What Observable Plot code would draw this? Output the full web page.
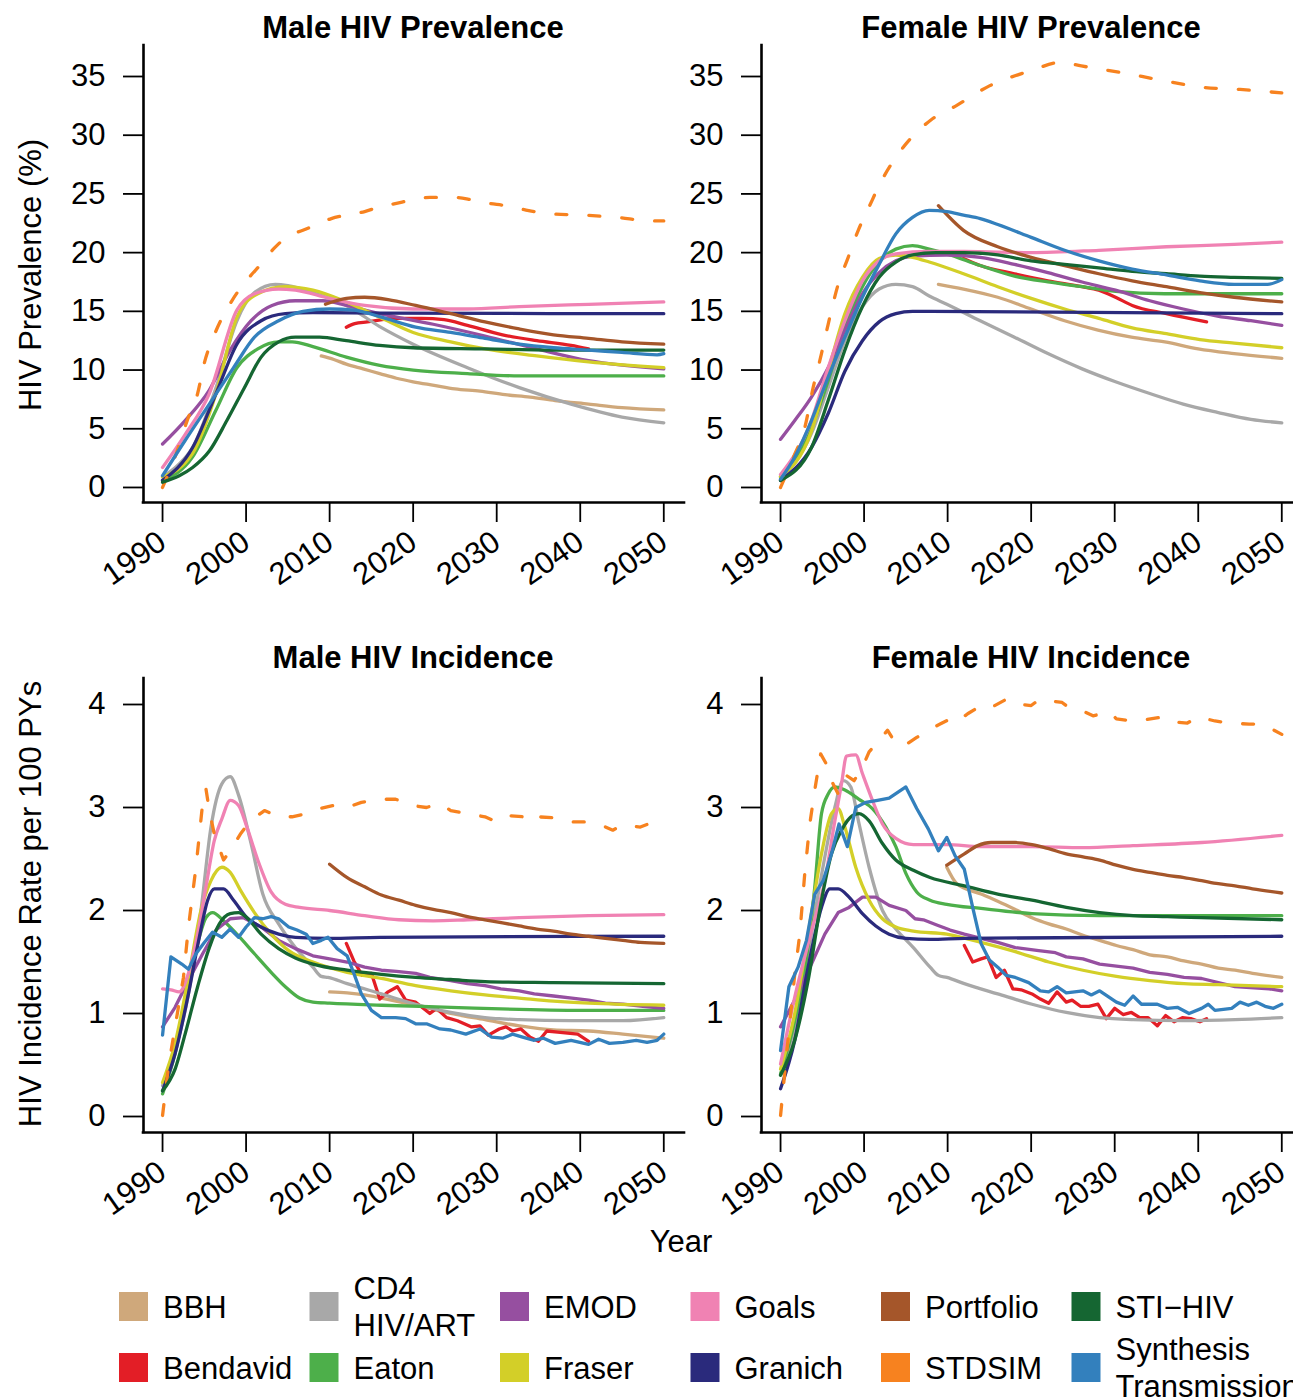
<!DOCTYPE html>
<html><head><meta charset="utf-8">
<script src="https://cdn.jsdelivr.net/npm/d3@7"></script>
<script src="https://cdn.jsdelivr.net/npm/@observablehq/plot@0.6"></script>
<style>
html,body{margin:0;padding:0;background:#fff;overflow:hidden}
#root{position:relative;width:1293px;height:1399px;overflow:hidden;background:#fff}
#root svg{position:absolute;overflow:visible}
</style></head><body><div id="root"></div>
<script>
// ---------- categories, colours, ticks ----------
const models = ["BBH","Bendavid","CD4 HIV/ART","Eaton","EMOD","Fraser","Goals","Granich","Portfolio","STDSIM","STI\u2212HIV","Synthesis Transmission"];
const legendLabels = [["BBH"],["Bendavid"],["CD4","HIV/ART"],["Eaton"],["EMOD"],["Fraser"],["Goals"],["Granich"],["Portfolio"],["STDSIM"],["STI\u2212HIV"],["Synthesis","Transmission"]];
const modelColors = ["#cfa87b","#e31e26","#a8a8a8","#4daf4a","#964fa0","#d3cf28","#f082b3","#2a2a7c","#a5562a","#f7821f","#156632","#3380bd"];
const yearTicks = [1990,2000,2010,2020,2030,2040,2050];
const prevTicks = [0,5,10,15,20,25,30,35];
const incTicks = [0,1,2,3,4];
const panelTitles = ["Male HIV Prevalence","Female HIV Prevalence","Male HIV Incidence","Female HIV Incidence"];

// ---------- Male HIV prevalence (%) [year, value] ----------
const mPrev_BBH = [[2009,11.2],[2010.5,10.9],[2012,10.5],[2014,10.1],[2016,9.7],[2018,9.3],[2020,9.0],[2022.5,8.7],[2025,8.4],[2028,8.2],[2031,7.9],[2034,7.7],[2037,7.4],[2041,7.1],[2045,6.8],[2050,6.6]];
const mPrev_Bendavid = [[2012,13.65],[2013,13.95],[2014.5,14.1],[2018,14.4],[2021,14.4],[2023.7,14.3],[2026.5,13.8],[2030.7,13.0],[2034.8,12.5],[2038.9,12.1],[2041,11.8]];
const mPrev_CD4 = [[1990,0.9],[1992,2.0],[1993.6,3.4],[1996.4,8.5],[1998.9,14.2],[2001,16.6],[2003.5,17.3],[2005,17.2],[2008,16.6],[2012,15.5],[2016,13.7],[2020,12.2],[2026.5,10.2],[2032.7,8.5],[2038.9,7.1],[2045,6.0],[2050,5.5]];
const mPrev_Eaton = [[1990,0.6],[1993.6,2.6],[1996.4,6.6],[1998.9,10.2],[2001.4,11.8],[2003.9,12.4],[2005.5,12.4],[2008,12.0],[2012,11.1],[2016,10.4],[2020,10.0],[2026.5,9.7],[2032.7,9.5],[2050,9.5]];
const mPrev_EMOD = [[1990,3.7],[1992.7,5.7],[1995.6,8.3],[1998.1,11.7],[2000.6,14.2],[2003.1,15.5],[2005.9,15.9],[2009.2,15.9],[2012,15.5],[2016,14.8],[2022.4,13.9],[2028.6,12.9],[2034.8,11.8],[2041,10.8],[2050,10.1]];
const mPrev_Fraser = [[1990,0.9],[1993.6,2.9],[1996.4,8.0],[1998.9,14.5],[2001.4,16.5],[2004.7,17.1],[2008,16.8],[2012,15.8],[2016,14.5],[2020,13.2],[2024.5,12.4],[2028.6,11.8],[2034.8,11.2],[2041,10.7],[2050,10.2]];
const mPrev_Goals = [[1990,1.7],[1992.7,4.5],[1995.6,8.0],[1998.9,15.1],[2001,16.5],[2003.9,16.9],[2005.9,16.8],[2010,16.1],[2014.2,15.5],[2020,15.2],[2026.5,15.2],[2032.7,15.4],[2041,15.6],[2050,15.8]];
const mPrev_Granich = [[1990,0.6],[1993.6,3.4],[1996.4,8.0],[1998.9,12.2],[2001.8,14.2],[2004.7,14.8],[2008,14.9],[2016,14.85],[2050,14.8]];
const mPrev_Portfolio = [[2009.5,15.6],[2012,16.1],[2014.2,16.2],[2017,16.0],[2020.3,15.5],[2024.5,14.8],[2028.6,14.1],[2032.7,13.5],[2036.8,13.0],[2041,12.7],[2045,12.4],[2050,12.2]];
const mPrev_STDSIM = [[1990,0],[1991.5,2.6],[1993,5.8],[1994.2,8.0],[1995,10.6],[1996.2,13.0],[1998.3,15.9],[2000.5,18.0],[2001.5,18.8],[2003.4,20.4],[2005,21.4],[2006.8,21.9],[2008.5,22.4],[2010.2,22.9],[2012,23.2],[2014.2,23.5],[2016,23.9],[2018,24.2],[2020,24.5],[2022,24.7],[2025,24.7],[2027,24.5],[2029,24.2],[2031,24.0],[2033,23.7],[2036.5,23.3],[2040.4,23.2],[2044.4,23.0],[2048.4,22.7],[2050,22.7]];
const mPrev_STI = [[1990,0.45],[1992,1.0],[1993.6,1.7],[1995.6,3.1],[1997.7,5.7],[1999.8,8.5],[2001.8,11.1],[2003.9,12.4],[2005.9,12.8],[2008.8,12.8],[2012,12.5],[2016,12.1],[2020,11.9],[2028.6,11.8],[2036.8,11.7],[2050,11.7]];
const mPrev_Synthesis = [[1990,1.0],[1992.7,4.0],[1995.6,7.1],[1998.5,10.2],[2001,12.8],[2003.9,14.2],[2006.8,15.0],[2010,15.2],[2012.9,15.1],[2016.2,14.5],[2020.3,13.65],[2024.5,13.2],[2028.6,12.7],[2032.7,12.2],[2036.8,11.9],[2041,11.7],[2045,11.5],[2049.2,11.3],[2050,11.4]];

// ---------- Female HIV prevalence (%) ----------
const fPrev_BBH = [[2008.9,17.3],[2011.9,16.9],[2016,16.2],[2020,15.2],[2024,14.2],[2028,13.4],[2032,12.8],[2036,12.4],[2040,11.8],[2044.3,11.4],[2050,11.0]];
const fPrev_Bendavid = [[2011.9,19.5],[2013.9,18.9],[2018,18.2],[2022,17.6],[2026.1,17.1],[2028.1,16.8],[2030.1,16.2],[2032.1,15.5],[2036.2,14.8],[2041,14.1]];
const fPrev_CD4 = [[1990,0.7],[1993.7,4.6],[1995.7,8.5],[1997.7,12.5],[1999.8,15.4],[2001.8,16.9],[2003.8,17.3],[2005.8,17.1],[2007.8,16.3],[2009.9,15.6],[2013.9,14.2],[2018,12.8],[2022,11.4],[2026.1,10.1],[2030.1,9.0],[2034.2,8.0],[2038.2,7.1],[2042.3,6.4],[2046.3,5.8],[2050,5.5]];
const fPrev_Eaton = [[1990,0.9],[1993.7,5.1],[1995.7,9.1],[1997.7,13.6],[1999.8,17.1],[2001.8,19.2],[2003.8,20.3],[2005.8,20.6],[2007.8,20.3],[2009.9,19.9],[2013.9,18.9],[2018,18.0],[2022,17.5],[2026.1,17.1],[2030.1,16.7],[2036,16.5],[2050,16.5]];
const fPrev_EMOD = [[1990,4.1],[1991.7,5.7],[1993.7,7.7],[1995.7,10.2],[1997.7,13.4],[1999.8,16.5],[2001.8,18.3],[2003.8,19.3],[2005.8,19.7],[2009.9,19.8],[2013.9,19.6],[2018,19.0],[2022,18.3],[2026.1,17.5],[2030.1,16.8],[2034.2,15.9],[2038.2,15.2],[2042.3,14.6],[2046.3,14.2],[2050,13.8]];
const fPrev_Fraser = [[1990,0.9],[1993.7,4.8],[1995.7,9.9],[1997.7,14.8],[1999.8,17.9],[2001.8,19.5],[2003.8,19.8],[2005.8,19.6],[2007.8,19.2],[2011.9,18.2],[2016,17.1],[2020,16.1],[2024,15.2],[2028.1,14.4],[2032.1,13.6],[2036.2,13.1],[2040.2,12.6],[2044.3,12.3],[2050,11.9]];
const fPrev_Goals = [[1990,1.1],[1993.7,5.7],[1995.7,10.2],[1997.7,14.2],[1999.8,17.6],[2001.8,19.3],[2003.8,19.9],[2007.8,20.1],[2012,20.1],[2020,20.0],[2028.1,20.2],[2036.2,20.5],[2044.3,20.7],[2050,20.9]];
const fPrev_Granich = [[1990,0.6],[1993.7,3.4],[1995.7,6.3],[1997.7,9.9],[1999.8,12.5],[2001.8,14.1],[2003.8,14.8],[2005.8,15.0],[2008,15.0],[2050,14.8]];
const fPrev_Portfolio = [[2008.9,24.0],[2011.9,21.9],[2016,20.5],[2020,19.6],[2024,18.9],[2028.1,18.2],[2032.1,17.6],[2036.2,17.1],[2040.2,16.6],[2044.3,16.2],[2050,15.8]];
const fPrev_STDSIM = [[1990,0],[1991.5,2.5],[1992.9,5.1],[1993.9,8.5],[1994.9,11.4],[1995.7,13.9],[1996.9,17.3],[1998.1,19.6],[1999.3,21.9],[2000.6,23.9],[2002,26.0],[2004.4,28.7],[2008,31.3],[2011,32.5],[2015,34.2],[2020,35.5],[2023.5,36.2],[2026,35.9],[2031,35.3],[2035.5,34.7],[2040.3,34.1],[2045,33.9],[2050,33.6]];
const fPrev_STI = [[1990,0.6],[1993.7,3.4],[1995.7,7.4],[1997.7,11.7],[1999.8,15.4],[2001.8,17.9],[2003.8,19.2],[2005.8,19.8],[2008.6,20.0],[2012,20.0],[2016,19.8],[2020,19.3],[2024,19.0],[2028.1,18.7],[2032.1,18.4],[2036.2,18.2],[2040.2,18.0],[2044.3,17.9],[2050,17.8]];
const fPrev_Synthesis = [[1990,0.7],[1991.7,2.6],[1993.7,5.7],[1995.7,9.4],[1997.7,12.8],[1999.8,16.2],[2001.8,19.0],[2003.8,21.6],[2005.8,23.0],[2007.8,23.6],[2009.9,23.5],[2011.9,23.2],[2013.9,22.9],[2016,22.4],[2020,21.3],[2024,20.2],[2028.1,19.3],[2032.1,18.6],[2036.2,18.1],[2040.2,17.6],[2044.3,17.3],[2048.3,17.3],[2050,17.7]];

// ---------- Male HIV incidence (per 100 PY) ----------
const mInc_BBH = [[2010,1.21],[2012.1,1.2],[2014.2,1.18],[2016.2,1.15],[2020.3,1.08],[2024.5,1.0],[2028.6,0.94],[2032.7,0.88],[2036.8,0.84],[2041,0.83],[2045.1,0.8],[2050,0.76]];
const mInc_Bendavid = [[2012,1.68],[2012.9,1.51],[2013.9,1.37],[2015,1.39],[2016,1.14],[2017,1.21],[2018.1,1.26],[2019.1,1.13],[2020.3,1.11],[2022,1.0],[2022.8,1.05],[2024,0.96],[2025.3,0.93],[2027,0.87],[2028,0.88],[2029,0.79],[2030.3,0.85],[2031.1,0.87],[2031.9,0.83],[2032.9,0.85],[2034,0.77],[2035,0.73],[2036,0.83],[2037.3,0.82],[2038.5,0.81],[2039.7,0.8],[2041,0.73]];
const mInc_CD4 = [[1990,0.3],[1991.5,0.64],[1993.1,1.19],[1994.6,2.0],[1995.8,2.81],[1997.1,3.23],[1998.1,3.3],[1999.1,3.12],[2000.6,2.65],[2002,2.16],[2003.9,1.87],[2005.9,1.64],[2008,1.45],[2009,1.36],[2009.8,1.35],[2012.1,1.29],[2016.2,1.19],[2020.3,1.09],[2024.5,1.01],[2028.6,0.96],[2032.7,0.94],[2038.9,0.93],[2045.1,0.93],[2050,0.96]];
const mInc_Eaton = [[1990,0.22],[1991.5,0.61],[1993.1,1.26],[1994.4,1.74],[1995.2,1.93],[1996,1.98],[1997.3,1.9],[1998.9,1.77],[2001,1.58],[2003,1.4],[2004.7,1.26],[2006.4,1.15],[2008,1.11],[2010,1.1],[2016.2,1.08],[2024.5,1.06],[2032.7,1.04],[2041,1.03],[2050,1.03]];
const mInc_EMOD = [[1990,0.87],[1991.5,1.06],[1993.1,1.32],[1994.8,1.58],[1996.4,1.81],[1998.1,1.92],[1999.7,1.93],[2001.8,1.84],[2003.9,1.71],[2005.9,1.63],[2008,1.56],[2010,1.53],[2012.1,1.5],[2014.2,1.45],[2016.2,1.42],[2018,1.41],[2020.3,1.39],[2022,1.35],[2024.5,1.32],[2026.5,1.29],[2028.6,1.27],[2030.5,1.24],[2032.7,1.22],[2034.5,1.19],[2036.8,1.17],[2039,1.15],[2041,1.13],[2043,1.1],[2045.1,1.09],[2047.5,1.07],[2050,1.05]];
const mInc_Fraser = [[1990,0.33],[1991.5,0.71],[1993.1,1.35],[1994.6,2.0],[1995.8,2.29],[1997.1,2.42],[1998.1,2.37],[1999.3,2.2],[2001,1.98],[2003,1.77],[2005.1,1.61],[2008,1.5],[2012.1,1.4],[2016.2,1.34],[2020.3,1.27],[2024.5,1.22],[2028.6,1.18],[2032.7,1.15],[2036.8,1.12],[2041,1.1],[2050,1.08]];
const mInc_Goals = [[1990,1.24],[1991,1.23],[1992,1.21],[1993.1,1.39],[1994.2,1.77],[1995.2,2.23],[1996.2,2.68],[1997.1,2.89],[1998.1,3.07],[1999.1,3.02],[2000.1,2.81],[2001.4,2.49],[2003,2.18],[2004.7,2.06],[2006.4,2.03],[2010,2.0],[2014.2,1.95],[2018.3,1.91],[2022.4,1.9],[2026.5,1.91],[2032.7,1.93],[2041,1.95],[2050,1.96]];
const mInc_Granich = [[1990,0.25],[1991.5,0.61],[1993.1,1.19],[1994.4,1.74],[1995.4,2.1],[1996.2,2.21],[1997.3,2.21],[1998.5,2.1],[2000.1,1.93],[2001.8,1.84],[2003.9,1.77],[2005.9,1.74],[2010,1.73],[2016,1.74],[2050,1.75]];
const mInc_Portfolio = [[2010,2.45],[2012.1,2.32],[2014.2,2.23],[2016.2,2.15],[2018.3,2.1],[2020.3,2.05],[2022.4,2.01],[2024.5,1.98],[2026.5,1.94],[2028.6,1.91],[2030.7,1.88],[2032.7,1.85],[2034.8,1.82],[2036.8,1.8],[2038.9,1.77],[2041,1.75],[2043,1.73],[2045.1,1.71],[2047.2,1.69],[2050,1.68]];
const mInc_STDSIM = [[1990,0.01],[1990.7,0.48],[1991.5,0.87],[1992.5,1.35],[1993.1,1.84],[1994,2.42],[1994.8,3.04],[1995.2,3.18],[1995.6,2.97],[1996.2,2.74],[1997.3,2.49],[1998.1,2.58],[1999.3,2.74],[2000.5,2.87],[2002.2,2.97],[2003.9,2.91],[2005.5,2.91],[2007.2,2.94],[2008.8,2.99],[2010.5,3.02],[2012.1,3.0],[2013.8,3.05],[2016.2,3.08],[2017.9,3.08],[2019.9,3.02],[2021.6,3.0],[2023.2,3.04],[2024.5,2.97],[2026.5,2.94],[2028.6,2.91],[2030,2.86],[2031.5,2.92],[2033.1,2.91],[2034,2.86],[2034.8,2.91],[2036.8,2.9],[2038.9,2.86],[2041,2.86],[2042.2,2.84],[2043.9,2.78],[2045.1,2.83],[2047.2,2.81],[2048.8,2.86]];
const mInc_STI = [[1990,0.25],[1991.5,0.46],[1992.7,0.8],[1994.2,1.26],[1995.6,1.64],[1996.8,1.87],[1998.1,1.97],[1999.1,1.98],[2000.1,1.93],[2001.8,1.77],[2003.9,1.63],[2005.9,1.54],[2008,1.48],[2012.1,1.42],[2016.2,1.38],[2020.3,1.35],[2024.5,1.33],[2028.6,1.31],[2036.8,1.3],[2050,1.29]];
const mInc_Synthesis = [[1990,0.79],[1991,1.55],[1992.3,1.48],[1993.1,1.43],[1994,1.58],[1995,1.69],[1996,1.79],[1997.1,1.74],[1998.1,1.82],[1999.1,1.74],[2000,1.84],[2001,1.93],[2002,1.92],[2003,1.94],[2003.9,1.92],[2005.1,1.84],[2006.1,1.81],[2007.2,1.77],[2008,1.68],[2009,1.71],[2009.8,1.74],[2010.9,1.63],[2012.1,1.56],[2012.9,1.39],[2013.8,1.19],[2015,1.03],[2016.2,0.96],[2017.9,0.96],[2019.1,0.95],[2020.3,0.9],[2021.6,0.9],[2023.2,0.85],[2024.5,0.84],[2026.3,0.8],[2028,0.85],[2029.4,0.77],[2030.7,0.76],[2031.9,0.8],[2033.1,0.77],[2034.4,0.74],[2035.6,0.76],[2037,0.71],[2038.9,0.74],[2041,0.7],[2042.2,0.75],[2043.5,0.71],[2045.1,0.72],[2046.7,0.74],[2048,0.72],[2049.2,0.74],[2050,0.8]];

// ---------- Female HIV incidence (per 100 PY) ----------
const fInc_BBH = [[2009.9,2.42],[2011.1,2.26],[2014,2.16],[2016,2.09],[2018.1,2.01],[2020.1,1.93],[2022.1,1.87],[2024.2,1.82],[2026.2,1.76],[2028.2,1.71],[2030.2,1.66],[2032.2,1.62],[2034.2,1.57],[2036.3,1.55],[2038.3,1.51],[2040.4,1.48],[2042.4,1.44],[2044.4,1.42],[2046.5,1.39],[2050,1.35]];
const fInc_Bendavid = [[2012,1.66],[2013,1.5],[2014,1.53],[2014.8,1.55],[2015.8,1.35],[2016.8,1.42],[2017.8,1.24],[2018.8,1.23],[2020.1,1.19],[2021.1,1.14],[2022.1,1.1],[2023.1,1.21],[2024.2,1.11],[2024.9,1.13],[2025.9,1.07],[2026.9,1.07],[2028,1.09],[2029,0.95],[2030,1.05],[2031,0.99],[2032,1.01],[2033,0.96],[2034,0.96],[2035.1,0.88],[2036.1,0.98],[2037.1,0.92],[2038.1,0.96],[2039.1,0.95],[2040.2,0.92],[2041,0.95]];
const fInc_CD4 = [[1990,0.41],[1991.7,0.83],[1992.9,1.39],[1994.1,1.97],[1995.3,2.52],[1996.5,3.0],[1997.5,3.26],[1998.4,3.2],[1999.4,2.84],[2000.6,2.42],[2002.2,2.0],[2003.8,1.82],[2005.9,1.64],[2007.9,1.45],[2008.9,1.37],[2009.9,1.35],[2012,1.29],[2016,1.19],[2020.1,1.09],[2024.2,1.01],[2028.2,0.96],[2032.2,0.94],[2038.3,0.93],[2044.4,0.94],[2050,0.96]];
const fInc_Eaton = [[1990,0.41],[1991.7,0.93],[1992.9,1.42],[1994.1,2.23],[1994.9,2.94],[1995.7,3.13],[1996.5,3.2],[1997.7,3.17],[1999.4,3.08],[2001,2.99],[2002.6,2.81],[2003.8,2.62],[2005,2.36],[2006.3,2.18],[2007.9,2.1],[2009.9,2.06],[2014,2.02],[2020.1,1.97],[2028.2,1.95],[2050,1.95]];
const fInc_EMOD = [[1990,0.87],[1991.7,1.13],[1993.7,1.48],[1995.3,1.77],[1996.9,1.98],[1998.2,2.03],[1999.8,2.13],[2001.4,2.13],[2003,2.05],[2005,2.0],[2006.1,1.92],[2007.1,1.91],[2008.7,1.86],[2010.3,1.81],[2012,1.77],[2014,1.73],[2016,1.69],[2018.1,1.64],[2020.9,1.61],[2022.9,1.59],[2024.2,1.55],[2026.2,1.53],[2028.2,1.48],[2032.2,1.44],[2034.2,1.4],[2036.3,1.38],[2038.3,1.35],[2040.4,1.34],[2044.4,1.26],[2048.5,1.24],[2050,1.22]];
const fInc_Fraser = [[1990,0.46],[1991.7,1.0],[1993.3,1.77],[1994.9,2.55],[1996.1,2.94],[1996.9,2.99],[1997.7,2.81],[1999,2.42],[2000.6,2.1],[2002.2,1.92],[2003.8,1.84],[2005.9,1.8],[2009.9,1.77],[2014,1.69],[2018.1,1.6],[2022.1,1.5],[2026.2,1.42],[2030.2,1.36],[2034.2,1.32],[2038.3,1.29],[2042.4,1.28],[2050,1.26]];
const fInc_Goals = [[1990,0.51],[1991.7,1.16],[1993.7,1.8],[1995.3,2.29],[1996.5,2.87],[1997.3,3.23],[1997.9,3.5],[1999,3.51],[1999.8,3.33],[2001,3.07],[2002.2,2.84],[2003.8,2.7],[2005.9,2.64],[2009.9,2.64],[2014,2.62],[2020.1,2.62],[2026.2,2.61],[2032.2,2.63],[2040.4,2.66],[2050,2.73]];
const fInc_Granich = [[1990,0.27],[1991.7,0.74],[1993.3,1.45],[1994.9,2.03],[1995.9,2.21],[1996.9,2.21],[1998.2,2.13],[1999.8,1.97],[2001.4,1.85],[2003,1.77],[2005,1.73],[2007.9,1.72],[2012,1.73],[2050,1.75]];
const fInc_Portfolio = [[2009.9,2.44],[2012,2.55],[2013.6,2.63],[2015.2,2.66],[2018.1,2.66],[2020.1,2.64],[2022.1,2.6],[2024.2,2.55],[2026.2,2.52],[2028.2,2.49],[2030.2,2.44],[2032.2,2.4],[2034.2,2.37],[2036.3,2.34],[2038.3,2.32],[2040.4,2.29],[2042.4,2.26],[2044.4,2.24],[2046.5,2.21],[2050,2.17]];
const fInc_STDSIM = [[1990,0.01],[1990.8,0.67],[1991.7,1.38],[1992.3,1.77],[1992.9,2.36],[1993.5,2.84],[1994.1,3.17],[1994.8,3.52],[1995.5,3.42],[1996.1,3.26],[1996.9,3.13],[1997.9,3.31],[1998.8,3.26],[1999.8,3.39],[2000.6,3.54],[2001.8,3.65],[2002.8,3.75],[2003.8,3.62],[2004.8,3.6],[2006.3,3.68],[2007.9,3.76],[2009.1,3.81],[2010.3,3.86],[2011.1,3.83],[2012.4,3.91],[2014,3.99],[2015.2,3.97],[2017,4.05],[2017.8,4.01],[2020,3.99],[2021,4.05],[2023.7,4.02],[2024.5,3.97],[2026.1,3.94],[2027.4,3.89],[2029.4,3.93],[2030.2,3.86],[2032.2,3.84],[2033.5,3.85],[2035.9,3.88],[2037.1,3.83],[2038.7,3.82],[2040,3.88],[2042,3.84],[2043.6,3.82],[2046.1,3.81],[2047.7,3.81],[2050,3.71]];
const fInc_STI = [[1990,0.4],[1991.7,0.74],[1993.3,1.32],[1994.9,2.1],[1996.1,2.55],[1997.3,2.78],[1998.6,2.92],[1999.4,2.94],[2000.6,2.87],[2002.2,2.65],[2003.8,2.49],[2005.9,2.39],[2007.9,2.32],[2012,2.24],[2016,2.16],[2020.1,2.1],[2024.2,2.03],[2028.2,1.98],[2032.2,1.95],[2036.3,1.94],[2040.4,1.93],[2050,1.91]];
const fInc_Synthesis = [[1990,0.64],[1991,1.26],[1992.1,1.45],[1993.1,1.71],[1994.1,2.16],[1995.1,2.29],[1996.1,2.55],[1997,2.84],[1998,2.62],[1999,3.0],[2000.2,3.05],[2001.6,3.07],[2003,3.09],[2005,3.2],[2006.3,2.99],[2007.7,2.79],[2008.9,2.58],[2009.9,2.71],[2010.9,2.53],[2012,2.4],[2013,2.03],[2014,1.68],[2015,1.52],[2016,1.45],[2017,1.37],[2018.1,1.35],[2019.7,1.3],[2021.1,1.22],[2022.1,1.21],[2023.1,1.26],[2024.2,1.2],[2026.2,1.22],[2027.2,1.18],[2028.2,1.22],[2030.2,1.11],[2031.2,1.08],[2032.2,1.17],[2033.2,1.09],[2035.1,1.09],[2036.3,1.05],[2037.5,1.06],[2038.9,1.0],[2040.4,1.05],[2041.2,1.09],[2042,1.03],[2044,1.05],[2045,1.11],[2046,1.08],[2047,1.11],[2048,1.07],[2049,1.05],[2050,1.09]];

// ---------- assemble (order = drawing order) ----------
const panelSeries = [
  [mPrev_BBH,mPrev_Bendavid,mPrev_CD4,mPrev_Eaton,mPrev_EMOD,mPrev_Fraser,mPrev_Goals,mPrev_Granich,mPrev_Portfolio,mPrev_STDSIM,mPrev_STI,mPrev_Synthesis],
  [fPrev_BBH,fPrev_Bendavid,fPrev_CD4,fPrev_Eaton,fPrev_EMOD,fPrev_Fraser,fPrev_Goals,fPrev_Granich,fPrev_Portfolio,fPrev_STDSIM,fPrev_STI,fPrev_Synthesis],
  [mInc_BBH,mInc_Bendavid,mInc_CD4,mInc_Eaton,mInc_EMOD,mInc_Fraser,mInc_Goals,mInc_Granich,mInc_Portfolio,mInc_STDSIM,mInc_STI,mInc_Synthesis],
  [fInc_BBH,fInc_Bendavid,fInc_CD4,fInc_Eaton,fInc_EMOD,fInc_Fraser,fInc_Goals,fInc_Granich,fInc_Portfolio,fInc_STDSIM,fInc_STI,fInc_Synthesis]
];

const FONT = "'Liberation Sans', Arial, Helvetica, sans-serif";
const root = document.getElementById("root");
const xDomain = [1987.72, 2052.48];
const layout = [
  {left: 0,   top: 0,   yDomain: [-1.28, 37.64],    yTicks: prevTicks, inc: false},
  {left: 618, top: 0,   yDomain: [-1.28, 37.64],    yTicks: prevTicks, inc: false},
  {left: 0,   top: 630, yDomain: [-0.1553, 4.2524], yTicks: incTicks,  inc: true},
  {left: 618, top: 630, yDomain: [-0.1553, 4.2524], yTicks: incTicks,  inc: true}
];
const jagged = new Set(["Bendavid","STDSIM","Synthesis Transmission","EMOD"]);

layout.forEach((L, p) => {
  const marks = [];
  panelSeries[p].forEach((pts, i) => {
    const m = models[i];
    marks.push(Plot.line(pts, {
      x: d => d[0], y: d => d[1],
      stroke: modelColors[i], strokeWidth: 3.3,
      strokeLinecap: "round", strokeLinejoin: "round",
      strokeDasharray: m === "STDSIM" ? "11,22" : undefined,
      curve: (L.inc && jagged.has(m)) ? "linear" : "monotone-x"
    }));
  });
  marks.push(Plot.ruleX([xDomain[0]], {stroke: "black", strokeWidth: 2.6, strokeLinecap: "square"}));
  marks.push(Plot.ruleY([L.yDomain[0]], {stroke: "black", strokeWidth: 2.6, strokeLinecap: "square"}));
  marks.push(Plot.axisY({ticks: L.yTicks, tickSize: 20, tickPadding: 18, strokeWidth: 1.8, label: null, tickFormat: d => String(d)}));
  marks.push(Plot.axisX({ticks: yearTicks, tickSize: 20, strokeWidth: 1.8, label: null, tickFormat: () => ""}));
  marks.push(Plot.text(yearTicks, {x: d => d, frameAnchor: "bottom", text: d => String(d), rotate: -35, textAnchor: "end", lineAnchor: "middle", dx: 0, dy: 36, fontSize: 31}));
  const svg = Plot.plot({
    width: 690, height: 600,
    marginLeft: 143, marginRight: 6,
    marginTop: L.inc ? 48 : 45, marginBottom: 98,
    x: {domain: xDomain},
    y: {domain: L.yDomain},
    style: {fontSize: "31px", fontFamily: FONT, color: "black", background: "transparent", overflow: "visible"},
    marks
  });
  svg.style.left = L.left + "px";
  svg.style.top = L.top + "px";
  root.appendChild(svg);
});

// ---------- titles, axis titles, legend ----------
const ov = d3.create("svg").attr("width", 1293).attr("height", 1399)
  .style("left", "0px").style("top", "0px").style("font-family", FONT);
const titlePos = [[413, 38], [1031, 38], [413, 668], [1031, 668]];
panelTitles.forEach((t, i) => {
  ov.append("text").attr("x", titlePos[i][0]).attr("y", titlePos[i][1])
    .attr("text-anchor", "middle").attr("font-size", 31).attr("font-weight", "bold").text(t);
});
ov.append("text").attr("transform", "translate(41,275) rotate(-90)").attr("text-anchor", "middle").attr("font-size", 31).text("HIV Prevalence (%)");
ov.append("text").attr("transform", "translate(41,904) rotate(-90)").attr("text-anchor", "middle").attr("font-size", 31).text("HIV Incidence Rate per 100 PYs");
ov.append("text").attr("x", 681).attr("y", 1252).attr("text-anchor", "middle").attr("font-size", 31).text("Year");

legendLabels.forEach((lines, i) => {
  const col = Math.floor(i / 2), row = i % 2;
  const sx = 119 + col * 190.5;
  const sy = row === 0 ? 1292 : 1353;
  ov.append("rect").attr("x", sx).attr("y", sy).attr("width", 29).attr("height", 29).attr("fill", modelColors[i]);
  const cy = sy + 14.5;
  lines.forEach((ln, k) => {
    const off = lines.length === 1 ? 0 : (k === 0 ? -18.5 : 18.5);
    ov.append("text").attr("x", sx + 44).attr("y", cy + off + 11).attr("font-size", 31).text(ln);
  });
});
root.appendChild(ov.node());
</script>
</body></html>
